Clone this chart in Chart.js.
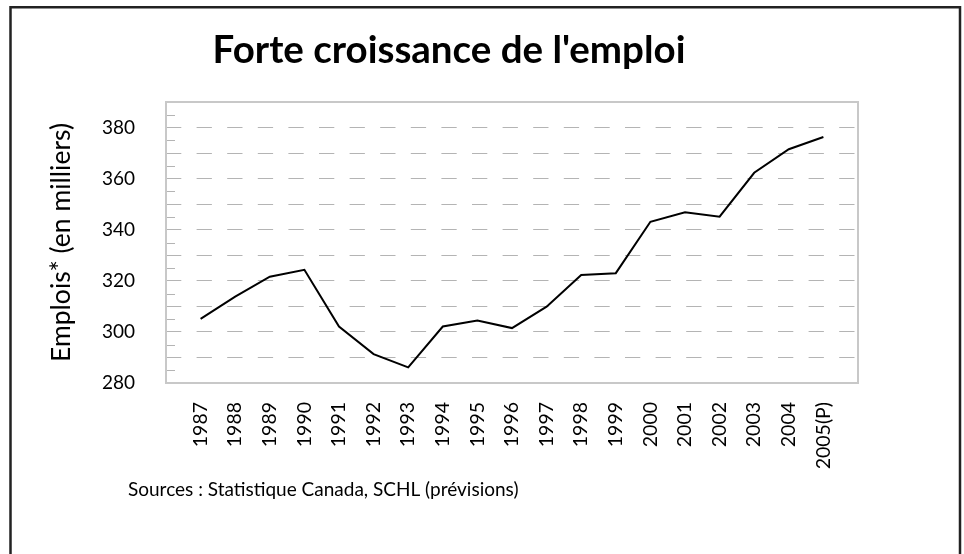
<!DOCTYPE html>
<html>
<head>
<meta charset="utf-8">
<script src="https://cdn.jsdelivr.net/npm/chart.js@4"></script>
<style>
  html, body { margin: 0; padding: 0; background: #fff; }
  #wrap { width: 964px; height: 554px; }
</style>
</head>
<body>
<div id="wrap"><canvas id="chart" width="964" height="554"></canvas></div>
<script>
// Données
const years = [1987, 1988, 1989, 1990, 1991, 1992, 1993, 1994, 1995, 1996,
               1997, 1998, 1999, 2000, 2001, 2002, 2003, 2004, 2005];
const emplois = [305.1, 313.8, 321.6, 324.3, 302.1, 291.3, 286.1, 302.1, 304.5, 301.5,
                 309.9, 322.3, 323.0, 343.1, 346.8, 345.1, 362.3, 371.5, 376.3];
const yLabels = [280, 300, 320, 340, 360, 380];
const forecastYear = 2005;

const titleText = "Forte croissance de l'emploi";
const sourceText = "Sources : Statistique Canada, SCHL (prévisions)";
const axisFont = "Lato, 'Open Sans', sans-serif";

// cadre, titre, source, bordure du graphique et petites graduations
const decorPlugin = {
    id: "decor",
    beforeDraw(chart) {
        const ctx = chart.ctx;
        ctx.save();
        ctx.fillStyle = "#fff";
        ctx.fillRect(0, 0, chart.width, chart.height);

        // outer frame (open at the bottom)
        ctx.strokeStyle = "#222";
        ctx.lineWidth = 2.5;
        ctx.beginPath();
        ctx.moveTo(10.5, chart.height + 5);
        ctx.lineTo(10.5, 7.3);
        ctx.lineTo(960, 7.3);
        ctx.lineTo(960, chart.height + 5);
        ctx.stroke();

        ctx.fillStyle = "#000";
        ctx.font = "bold 38.5px " + axisFont;
        ctx.textAlign = "center";
        ctx.textBaseline = "alphabetic";
        ctx.fillText(titleText, 449, 63);

        ctx.font = "19px " + axisFont;
        ctx.textAlign = "left";
        ctx.fillText(sourceText, 128, 496);
        ctx.restore();
    },
    beforeDatasetsDraw(chart) {
        const ctx = chart.ctx;
        const a = chart.chartArea;
        const y = chart.scales.y;
        ctx.save();
        // graduations vers l'intérieur tous les 5
        ctx.strokeStyle = "#b4b4b4";
        ctx.lineWidth = 1;
        ctx.beginPath();
        for (let v = y.min + 5; v < y.max; v += 10) {
            const py = Math.round(y.getPixelForValue(v)) + 0.5;
            ctx.moveTo(a.left, py);
            ctx.lineTo(a.left + 9, py);
        }
        ctx.stroke();
        // bordure grise
        ctx.strokeStyle = "#c8c8c8";
        ctx.lineWidth = 2;
        ctx.strokeRect(a.left, a.top, a.right - a.left, a.bottom - a.top);
        ctx.restore();
    }
};

new Chart(document.getElementById("chart"), {
    type: "line",
    data: {
        datasets: [{
            data: years.map((yr, i) => ({ x: yr, y: emplois[i] })),
            borderColor: "#000",
            borderWidth: 2,
            pointRadius: 0,
            tension: 0,
            fill: false
        }]
    },
    options: {
        responsive: false,
        animation: false,
        events: [],
        layout: { padding: { left: 38, top: 102, right: 106, bottom: 0 } },
        plugins: {
            legend: { display: false },
            title: { display: false },
            tooltip: { enabled: false }
        },
        scales: {
            x: {
                type: "linear",
                min: years[0] - 1,
                max: years[years.length - 1] + 1,
                afterFit(scale) { scale.height = 171; },
                grid: { display: false, drawTicks: false },
                border: { display: false },
                ticks: {
                    stepSize: 1,
                    autoSkip: false,
                    minRotation: 90,
                    maxRotation: 90,
                    padding: 19,
                    color: "#000",
                    font: { family: axisFont, size: 19.5 },
                    callback(v) {
                        if (!years.includes(v)) return "";
                        return v === forecastYear ? v + "(P)" : String(v);
                    }
                }
            },
            y: {
                min: 280,
                max: 390,
                afterFit(scale) { scale.width = 128; },
                grid: {
                    color: "#b4b4b4",
                    lineWidth: 1,
                    drawTicks: false
                },
                border: { display: false, dash: [15.3, 15.3] },
                ticks: {
                    stepSize: 10,
                    autoSkip: false,
                    padding: 31,
                    color: "#000",
                    font: { family: axisFont, size: 19 },
                    callback(v) { return yLabels.includes(v) ? String(v) : ""; }
                },
                title: {
                    display: true,
                    text: "Emplois* (en milliers)",
                    color: "#000",
                    font: { family: axisFont, size: 26.5 },
                    padding: { top: 8, bottom: 0 }
                }
            }
        }
    },
    plugins: [decorPlugin]
});
</script>
</body>
</html>
